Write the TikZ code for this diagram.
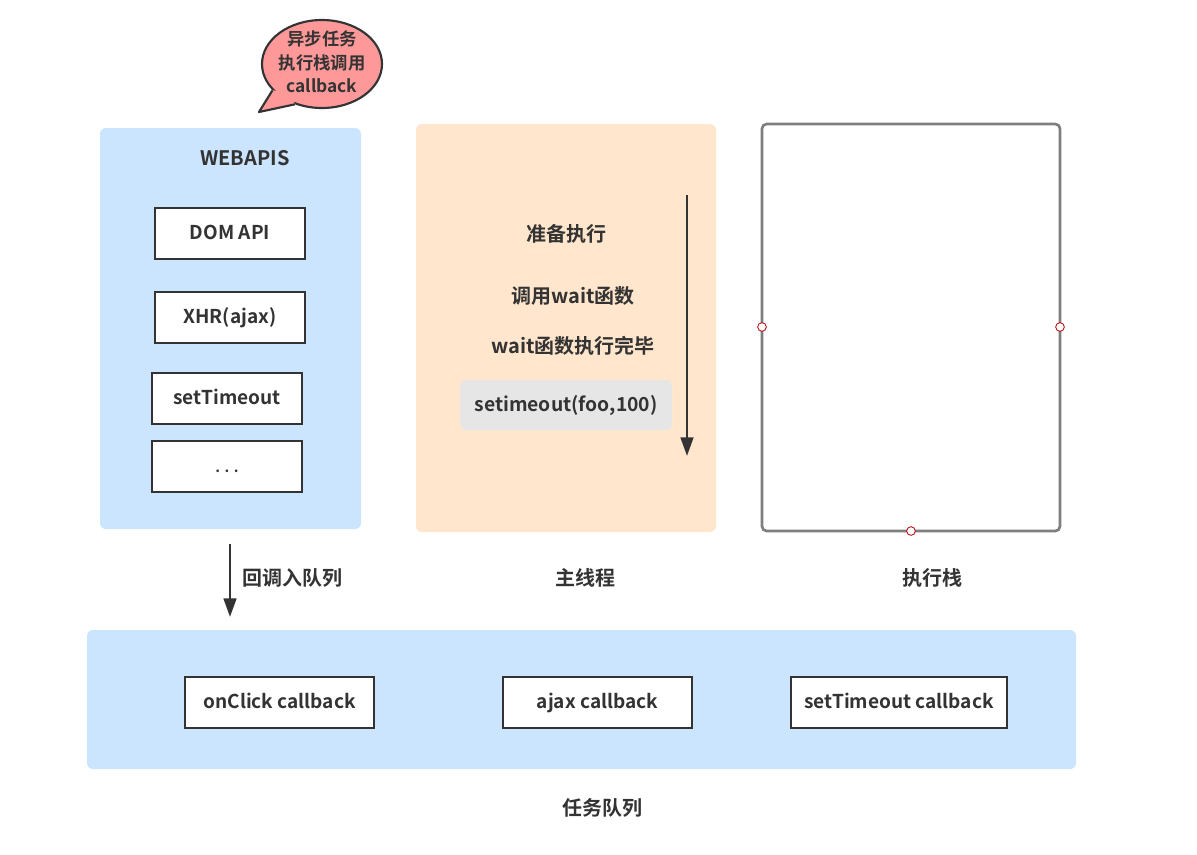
\documentclass[tikz,border=0pt]{standalone}
\usepackage{fontspec}
\setmainfont{Noto Sans CJK SC Bold}
\usetikzlibrary{shapes.geometric,calc,arrows.meta}
\definecolor{txt}{HTML}{333333}
\definecolor{lblue}{HTML}{CCE5FF}
\definecolor{lorange}{HTML}{FFE6CC}
\definecolor{lgray}{HTML}{E6E6E6}
\definecolor{pink}{HTML}{FF9999}
\definecolor{stackgray}{HTML}{7F7F7F}
\definecolor{dotred}{HTML}{B20000}
\tikzset{
  lbl/.style={text=txt, font=\fontsize{15}{18}\selectfont, inner sep=0pt},
  abox/.style={draw=txt, line width=1.6pt, fill=white, text=txt, font=\fontsize{14.3}{17}\selectfont, minimum height=38.25pt, inner sep=0pt, text height=12pt, text depth=3pt},
  panel/.style={rounded corners=4.5pt},
  flow/.style={draw=txt, line width=2pt, -{Triangle[length=14pt,width=9.5pt]}},
  handle/.style={circle, draw=dotred, fill=white, line width=0.6pt, minimum size=6.5pt, inner sep=0pt}
}
\begin{document}
\begin{tikzpicture}[x=0.75pt,y=-0.75pt]
\useasboundingbox (0,0) rectangle (1197,854);
\fill[white] (0,0) rectangle (1197,854);

% panels
\fill[lblue, panel] (100,128) rectangle (361,529);
\fill[lorange, panel] (416,124) rectangle (716,532);
\draw[stackgray, line width=2pt, rounded corners=3.5pt, fill=white] (762,124) rectangle (1060,531);
\fill[lblue, panel] (87,630) rectangle (1076,769);

% bubble
\node[ellipse, draw=txt, fill=pink, line width=1.6pt, minimum width=90pt, minimum height=66pt, inner sep=0pt] (bubble) at (322,64) {};
\coordinate (tip) at (259,112);
\fill[pink] (bubble.208) -- (tip) -- (bubble.236) -- ($(bubble.center)!0.8!(bubble.222)$) -- cycle;
\draw[txt, line width=1.6pt, line join=round] (bubble.208) -- (tip) -- (bubble.236);
\node[lbl, align=center, font=\fontsize{13}{17.5}\selectfont] (btext) at (322,62) {异步任务\\执行栈调用\\callback};

% WEBAPIS
\node[lbl] (webapis) at (245,158) {WEBAPIS};
\node[abox, minimum width=112.5pt] (dom) at (230,233.5) {DOM API};
\node[abox, minimum width=112.5pt] (xhr) at (230,317.5) {XHR(ajax)};
\node[abox, minimum width=112.5pt] (st) at (227,398.5) {setTimeout};
\node[abox, minimum width=112.5pt, font=\fontsize{11}{13}\selectfont] (dots) at (227,466.5) {. . .};

% main thread
\node[lbl] (s1) at (566,234) {准备执行};
\node[lbl] (s2) at (573,296) {调用wait函数};
\node[lbl] (s3) at (573,346) {wait函数执行完毕};
\node[fill=lgray, rounded corners=4.5pt, minimum width=159pt, minimum height=37.5pt, text=txt, font=\fontsize{14.5}{17}\selectfont, inner sep=0pt, text height=12pt, text depth=3pt] (s4) at (566,405) {setimeout(foo,100)};
\coordinate (a1) at (687,195);
\coordinate (a2) at (687,456);
\draw[flow] (a1) -- (a2);

% stack handles
\node[handle] (h1) at (762,327) {};
\node[handle] (h2) at (1060,327) {};
\node[handle] (h3) at (911,531) {};

% labels
\coordinate (q1) at (230,544);
\coordinate (q2) at (230,617);
\draw[flow] (q1) -- (q2);
\node[lbl] (enq) at (292,578) {回调入队列};
\node[lbl] (mainlbl) at (585,578) {主线程};
\node[lbl] (stacklbl) at (932,578) {执行栈};

% task queue
\node[abox, minimum width=141.75pt] (c1) at (279.5,702.5) {onClick callback};
\node[abox, minimum width=141.75pt] (c2) at (597.5,702.5) {ajax callback};
\node[abox, minimum width=162pt] (c3) at (899,702.5) {setTimeout callback};
\node[lbl] (queue) at (602,808) {任务队列};
\end{tikzpicture}
\end{document}
